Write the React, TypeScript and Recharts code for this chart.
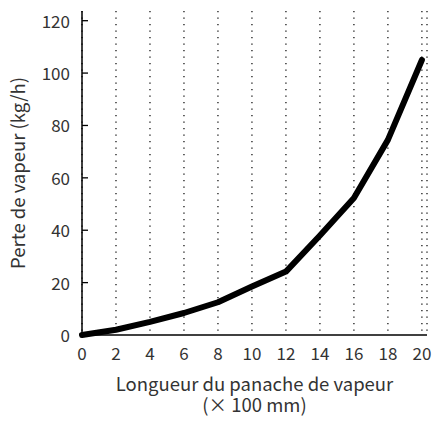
import React from "react";
import { LineChart, Line, XAxis, YAxis, CartesianGrid, Label } from "recharts";

// plume length (x 100 mm) and steam loss (kg/h)
const lengths = [0, 2, 4, 6, 8, 10, 12, 14, 16, 18, 20];
const losses = [0, 2, 5, 8.4, 12.5, 18.5, 24.2, 38, 52.3, 74.5, 105];
const xTicks = [0, 2, 4, 6, 8, 10, 12, 14, 16, 18, 20];
const yTicks = [0, 20, 40, 60, 80, 100, 120];

const data = lengths.map((l, i) => ({ length: l, loss: losses[i] }));

const FONT = "'Noto Sans CJK KR', 'Noto Sans', sans-serif";
const TEXT = "#333";
const AXIS_X = 82;

function YTick(props: any) {
  const { y, payload } = props;
  return (
    <g>
      <line x1={AXIS_X} x2={AXIS_X + 6} y1={y} y2={y} stroke="#000" strokeWidth={1.3} />
      <text x={AXIS_X - 12} y={y} dy={7} textAnchor="end" fontSize={17} fontFamily={FONT} fill={TEXT}>
        {payload.value}
      </text>
    </g>
  );
}

function XTick(props: any) {
  const { x, payload, y } = props;
  return (
    <text x={x} y={y} dy={17} textAnchor="middle" fontSize={17} fontFamily={FONT} fill={TEXT}>
      {payload.value}
    </text>
  );
}

export default function App() {
  return (
    <div style={{ position: "absolute", left: 0, top: 0, background: "#fff" }}>
      <LineChart width={435} height={425} data={data} margin={{ top: 11, right: 8, bottom: 0, left: 0 }}>
        <CartesianGrid vertical horizontal={false} stroke="#000" strokeWidth={1.2} strokeDasharray="1.3 5.2" />
        <XAxis
          dataKey="length"
          type="number"
          domain={[0, 20.3]}
          ticks={xTicks}
          tickLine={false}
          height={90}
          axisLine={{ stroke: "#000", strokeWidth: 1.5 }}
          tick={<XTick />}
          interval={0}
        >
          <Label
            content={(p: any) => {
              const vb = p.viewBox;
              const cx = vb.x + vb.width / 2;
              return (
                <text textAnchor="middle" fontSize={18.5} fontFamily={FONT} fill={TEXT}>
                  <tspan x={cx} y={vb.y + 56}>Longueur du panache de vapeur</tspan>
                  <tspan x={cx} y={vb.y + 77}>(× 100 mm)</tspan>
                </text>
              );
            }}
          />
        </XAxis>
        <YAxis
          type="number"
          domain={[0, 123.7]}
          ticks={yTicks}
          width={82}
          tickLine={false}
          axisLine={{ stroke: "#000", strokeWidth: 1.5 }}
          tick={<YTick />}
          interval={0}
        >
          <Label
            content={(p: any) => {
              const vb = p.viewBox;
              const cy = vb.y + vb.height / 2;
              return (
                <text
                  x={17}
                  y={cy}
                  transform={`rotate(-90, 17, ${cy})`}
                  textAnchor="middle"
                  dominantBaseline="central"
                  fontSize={18.5}
                  fontFamily={FONT}
                  fill={TEXT}
                >
                  Perte de vapeur (kg/h)
                </text>
              );
            }}
          />
        </YAxis>
        <Line
          type="linear"
          dataKey="loss"
          stroke="#000"
          strokeWidth={6}
          strokeLinecap="round"
          strokeLinejoin="round"
          dot={false}
          isAnimationActive={false}
        />
      </LineChart>
    </div>
  );
}
